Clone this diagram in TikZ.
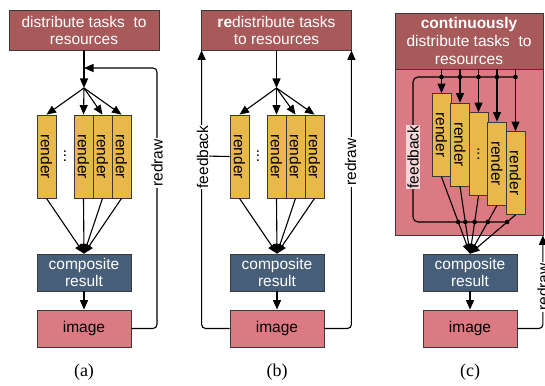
\documentclass[tikz,border=0pt]{standalone}
\usepackage{fontspec}
\usepackage{graphicx}
\setmainfont{Liberation Sans}
\newfontfamily\capfont{Liberation Serif}
\usetikzlibrary{arrows.meta,calc}
\definecolor{dkred}{HTML}{A85A5A}
\definecolor{pinkc}{HTML}{DB7A82}
\definecolor{yelc}{HTML}{E8B94A}
\definecolor{bluec}{HTML}{465E78}
\definecolor{lpink}{HTML}{F7D6D8}
\definecolor{edgec}{HTML}{3A3A3A}
\begin{document}
\begin{tikzpicture}[x=1pt,y=-1pt, font=\fontsize{15.5}{17}\selectfont,
  box/.style={draw=edgec, line width=0.8pt, inner sep=0pt, align=center, minimum width=94pt, minimum height=37pt},
  topbox/.style={box, fill=dkred, text=white, minimum width=150pt, minimum height=40pt},
  compbox/.style={box, fill=bluec, text=white},
  imgbox/.style={box, fill=pinkc},
  rbox/.style={draw=edgec, line width=0.8pt, fill=yelc, minimum width=19pt, minimum height=83pt, inner sep=0pt},
  lne/.style={line width=1.1pt, draw=black},
  arr/.style={lne, -{Triangle[length=9.5pt,width=8pt]}},
  lbl/.style={fill=white, inner sep=1pt},
  dotc/.style={fill=black},
  captxt/.style={font=\capfont\fontsize{18}{18}\selectfont}
]
\useasboundingbox (0,0) rectangle (545,385);
\clip (0,0) rectangle (545,385);

% ---------------- panel (a) ----------------
\node[topbox] (ta) at (84,30) {distribute tasks\ \ to\\resources};
\coordinate (ja) at (84,88);
\node[rbox] (ra1) at (46.5,156.5) {\rotatebox{-90}{render}};
\node[rbox] (ra2) at (83.5,156.5) {\rotatebox{-90}{render}};
\node[rbox] (ra3) at (102.5,156.5) {\rotatebox{-90}{render}};
\node[rbox] (ra4) at (121.5,156.5) {\rotatebox{-90}{render}};
\node (da) at (65,156) {\rotatebox{-90}{...}};
\node[compbox] (ca) at (84,272.5) {composite\\result};
\node[imgbox] (ia) at (84,328.5) {image};
\draw[arr] (ta.south) -- (ja);
\foreach \r in {ra1,ra2,ra3,ra4} {
  \draw[arr] (ja) -- (\r.north);
  \draw[arr] (\r.south) -- (ca.north);
}
\draw[arr] (ca.south) -- (ia.north);
\coordinate (rda) at (157,68);
\draw[arr, rounded corners=4pt] (ia.east) -| (rda) -- (ja |- rda);
\node[lbl] (la) at (157,163) {\rotatebox{90}{redraw}};
\node[captxt] (capa) at (84,372) {(a)};

% ---------------- panel (b) ----------------
\begin{scope}[xshift=193pt]
\node[topbox] (tb) at (83.5,30) {\textbf{re}distribute tasks\\to resources};
\coordinate (jb) at (83.5,88);
\node[rbox] (rb1) at (46.5,156.5) {\rotatebox{-90}{render}};
\node[rbox] (rb2) at (83.5,156.5) {\rotatebox{-90}{render}};
\node[rbox] (rb3) at (102.5,156.5) {\rotatebox{-90}{render}};
\node[rbox] (rb4) at (121.5,156.5) {\rotatebox{-90}{render}};
\node (db) at (65,156) {\rotatebox{-90}{...}};
\node[compbox] (cb) at (84,272.5) {composite\\result};
\node[imgbox] (ib) at (84,328.5) {image};
\draw[arr] (tb.south) -- (jb);
\foreach \r in {rb1,rb2,rb3,rb4} {
  \draw[arr] (jb) -- (\r.north);
  \draw[arr] (\r.south) -- (cb.north);
}
\draw[arr] (cb.south) -- (ib.north);
\draw[arr, rounded corners=4pt] (ib.west) -| ([xshift=0.5pt]tb.south west);
\draw[arr, rounded corners=4pt] (ib.east) -| ([xshift=-0.5pt]tb.south east);
\coordinate (fbb) at (9.5,156);
\draw[lne] (rb1.west) -- (fbb);
\node[lbl] (lfb) at (9.5,157) {\rotatebox{90}{feedback}};
\node[lbl] (lrb) at (157.5,162) {\rotatebox{90}{redraw}};
\node[captxt] (capb) at (84,372) {(b)};
\end{scope}

% ---------------- panel (c) ----------------
\node[draw=edgec, line width=0.8pt, fill=pinkc, minimum width=148pt, minimum height=222pt, inner sep=0pt] (oc) at (469,124) {};
\node[draw=edgec, line width=0.8pt, fill=dkred, text=white, minimum width=148pt, minimum height=56pt, inner sep=0pt, align=center, font=\fontsize{15.5}{18}\selectfont] (tc) at (469,41) {\textbf{continuously}\\distribute tasks\ \ to\\resources};
\node[rbox] (rc1) at (441.5,135) {\rotatebox{-90}{render}};
\node[rbox] (rc2) at (460,144.5) {\rotatebox{-90}{render}};
\node[rbox] (rc3) at (478.5,154) {\rotatebox{-90}{...}};
\node[rbox] (rc4) at (497,163.5) {\rotatebox{-90}{render}};
\node[rbox] (rc5) at (515.5,173) {\rotatebox{-90}{render}};
\node[compbox] (cc) at (470,272.5) {composite\\result};
\node[imgbox] (ic) at (470,328.5) {image};
\coordinate (fl) at (400,222);
\coordinate (fr) at (540,222);
\coordinate (tl) at (400,77);
\foreach \i in {1,...,5} {
  \coordinate (td\i) at (rc\i.north |- tl);
  \coordinate (bd\i) at (intersection of rc\i.south--cc.north and fl--fr);
}
\coordinate (fc1) at (413,222);
\coordinate (fc2) at (413,77);
\draw[lne, rounded corners=5pt] (bd5) -- (fc1) -- (fc2) -- (td5);
\foreach \i in {1,...,5} {
  \draw[arr] (tc.south -| rc\i.north) -- (rc\i.north);
  \draw[arr] (rc\i.south) -- (cc.north);
  \fill[dotc] (td\i) circle (2.3pt);
  \fill[dotc] (bd\i) circle (2.3pt);
}
\draw[arr] (cc.south) -- (ic.north);
\node[fill=lpink, inner sep=1pt] (lfc) at (413,157) {\rotatebox{90}{feedback}};
\draw[arr, rounded corners=4pt] (ic.east) -| ([xshift=-0.5pt]oc.south east);
\node[lbl] (lrc) at (543,287) {\rotatebox{90}{redraw}};
\node[captxt] (capc) at (470,372) {(c)};
\end{tikzpicture}
\end{document}
